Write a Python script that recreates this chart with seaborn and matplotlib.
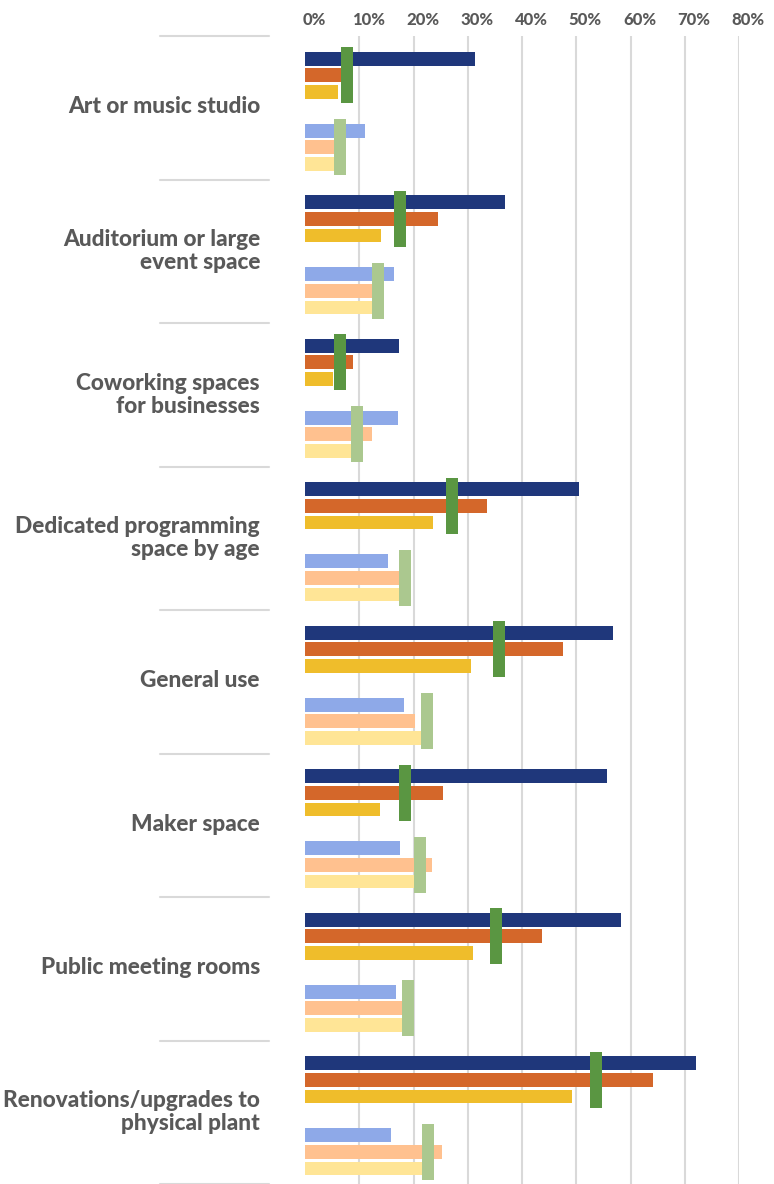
import matplotlib
matplotlib.use("Agg")
import matplotlib.pyplot as plt
import matplotlib.transforms as mtransforms
from matplotlib.path import Path
import numpy as np
import pandas as pd
import seaborn as sns

# Data (percent)
categories = [
    "Art or music studio",
    "Auditorium or large\nevent space",
    "Coworking spaces\nfor businesses",
    "Dedicated programming\nspace by age",
    "General use",
    "Maker space",
    "Public meeting rooms",
    "Renovations/upgrades to\nphysical plant",
]

# upper group of bars
upper_blue = [31.3, 36.9, 17.3, 50.5, 56.7, 55.6, 58.3, 72.1]
upper_orange = [7.0, 24.6, 8.8, 33.6, 47.5, 25.5, 43.6, 64.2]
upper_yellow = [6.0, 14.0, 5.1, 23.6, 30.6, 13.8, 31.0, 49.3]
upper_marker = [7.7, 17.5, 6.4, 27.1, 35.7, 18.4, 35.2, 53.7]

# lower group of bars
lower_blue = [11.0, 16.4, 17.1, 15.3, 18.2, 17.5, 16.7, 15.8]
lower_orange = [6.0, 13.0, 12.3, 18.0, 20.2, 23.4, 19.0, 25.2]
lower_yellow = [5.5, 13.0, 10.5, 18.0, 22.0, 21.0, 19.0, 22.0]
lower_marker = [6.4, 13.4, 9.6, 18.4, 22.5, 21.2, 19.0, 22.6]

tick_values = [0, 10, 20, 30, 40, 50, 60, 70, 80]

# Style / layout
W, H, DPI = 774, 1184, 100
GREY_TEXT = "#595959"
GRID = "#d9d9d9"
bar_names = ["upper_blue", "upper_orange", "upper_yellow",
             "lower_blue", "lower_orange", "lower_yellow"]
bar_colors = ["#1f377b", "#d4672a", "#efbd2b", "#8ea9e8", "#ffc18f", "#ffe596"]
bar_offsets = [0.158, 0.274, 0.390, 0.659, 0.775, 0.892]
bar_h = 0.097
marker_offsets = [0.274, 0.775]
marker_colors = ["#5a9642", "#abc88f"]

sns.set_theme(style="white")
plt.rcParams["font.family"] = ["Lato", "DejaVu Sans"]

bar_values = [upper_blue, upper_orange, upper_yellow,
              lower_blue, lower_orange, lower_yellow]
rows = []
for name, vals, off in zip(bar_names, bar_values, bar_offsets):
    for i, v in enumerate(vals):
        rows.append({"series": name, "pos": i + off, "value": v})
bars = pd.DataFrame(rows)

mrows = []
for name, vals, off in zip(["upper_marker", "lower_marker"],
                           [upper_marker, lower_marker], marker_offsets):
    for i, v in enumerate(vals):
        mrows.append({"series": name, "pos": i + off, "value": v})
marks = pd.DataFrame(mrows)

fig = plt.figure(figsize=(W / DPI, H / DPI), dpi=DPI)
ax_left, ax_right, ax_top = 305, 739, 36
ax = fig.add_axes([ax_left / W, 0, (ax_right - ax_left) / W, 1 - ax_top / H])

unit = np.min(np.diff(np.unique(bars["pos"].round(4))))
sns.barplot(data=bars, x="value", y="pos", hue="series", hue_order=bar_names,
            palette=bar_colors, orient="h", native_scale=True, dodge=False,
            width=bar_h / unit, errorbar=None, saturation=1, linewidth=0,
            legend=False, ax=ax)

# tall thin rectangle marker
rect = Path([(-0.107, -0.5), (0.107, -0.5), (0.107, 0.5), (-0.107, 0.5), (-0.107, -0.5)],
            [Path.MOVETO, Path.LINETO, Path.LINETO, Path.LINETO, Path.CLOSEPOLY])
marker_pts = 56 * 72 / DPI
sns.scatterplot(data=marks, x="value", y="pos", hue="series",
                hue_order=["upper_marker", "lower_marker"], palette=marker_colors,
                marker=rect, s=marker_pts ** 2, linewidth=0, edgecolor="none",
                legend=False, zorder=3, ax=ax)

ax.set_xlim(0, 80)
ax.set_ylim(len(categories), 0)
ax.set_xlabel("")
ax.set_ylabel("")
for s in ax.spines.values():
    s.set_visible(False)

ax.xaxis.tick_top()
ax.set_xticks(tick_values)
ax.set_xticklabels([f"{v}%" for v in tick_values], fontsize=12,
                   fontweight="black", color=GREY_TEXT)
ax.tick_params(axis="x", length=0, pad=6)
ax.grid(axis="x", color=GRID, lw=1.5)
ax.grid(axis="y", visible=False)
ax.set_axisbelow(True)
ax.xaxis.get_gridlines()[0].set_visible(False)
shift = mtransforms.ScaledTranslation(9 / DPI, 0, fig.dpi_scale_trans)
for lbl in ax.get_xticklabels():
    lbl.set_transform(lbl.get_transform() + shift)

ax.set_yticks([i + 0.48 for i in range(len(categories))])
ax.set_yticklabels(categories, fontsize=16.3, fontweight="black", color=GREY_TEXT,
                   linespacing=1.1)
ax.tick_params(axis="y", length=0, pad=(ax_left - 260) * 72 / DPI)

# separator lines between categories on the left
trans = mtransforms.blended_transform_factory(ax.transAxes, ax.transData)
x0 = (160 - ax_left) / (ax_right - ax_left)
x1 = (269 - ax_left) / (ax_right - ax_left)
for y in range(len(categories) + 1):
    ax.plot([x0, x1], [y, y], transform=trans, color=GRID, lw=1.5, clip_on=False)

fig.savefig("out.png", dpi=DPI)
